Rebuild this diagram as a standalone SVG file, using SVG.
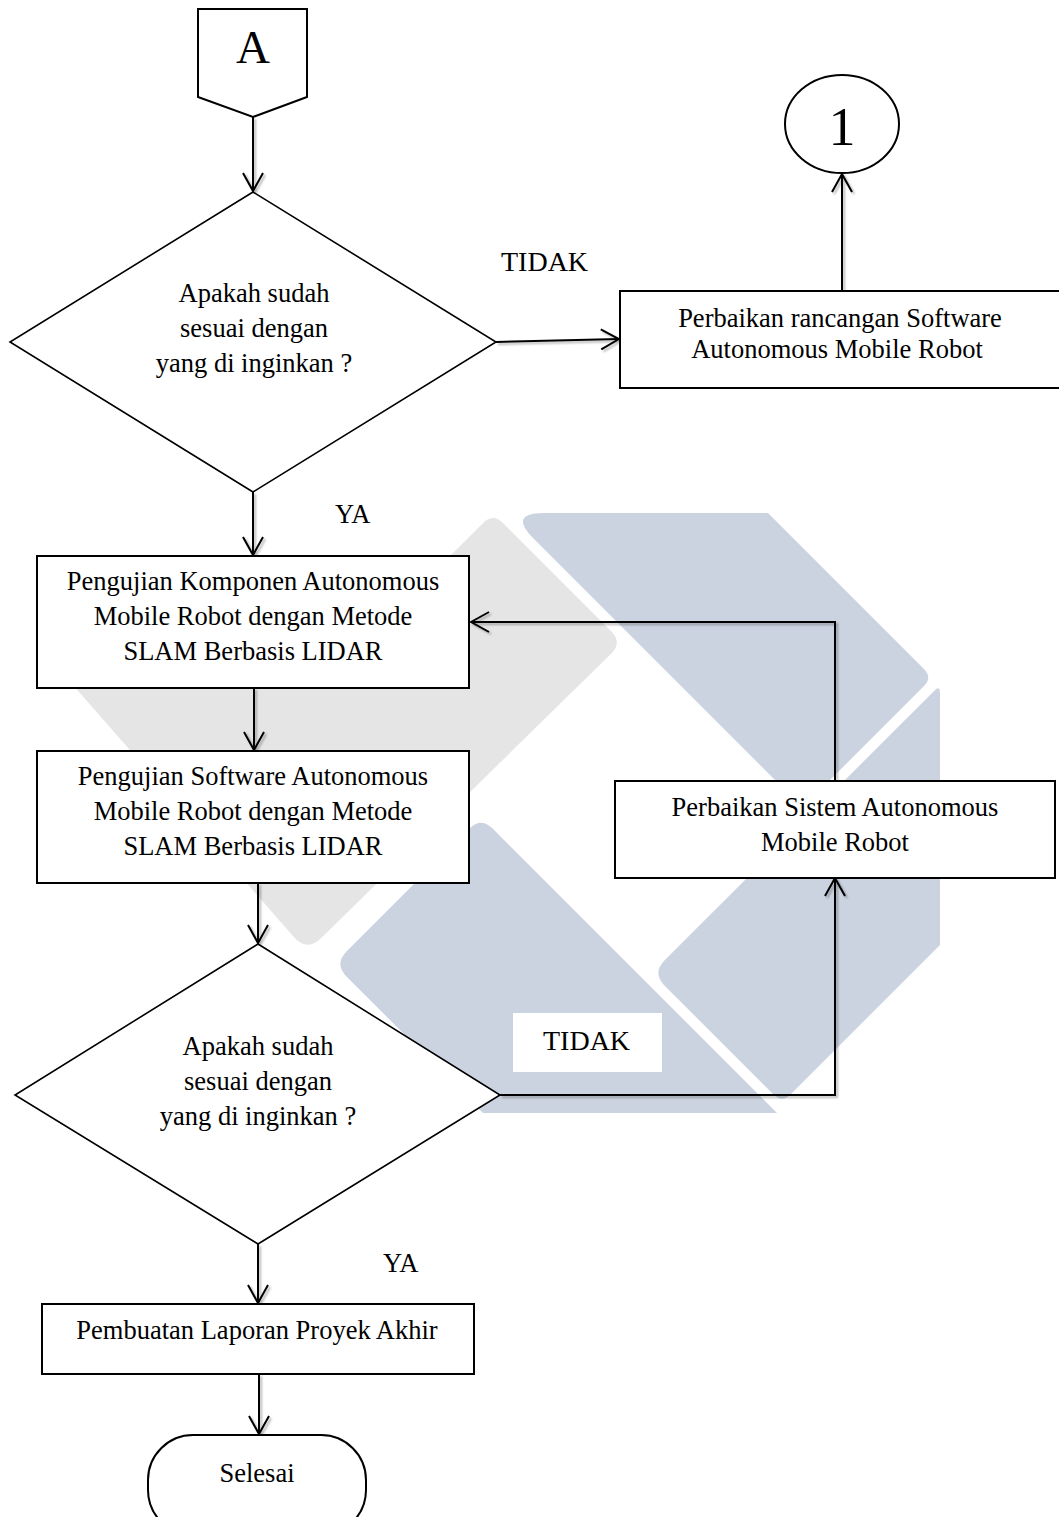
<svg xmlns="http://www.w3.org/2000/svg" width="1059" height="1517" viewBox="0 0 1059 1517">
  <defs>
    <style>
      .t { font-family: "Liberation Serif", "Times New Roman", serif; font-size: 26.5px; fill: #000; text-anchor: middle; }
      .lbl { font-family: "Liberation Serif", "Times New Roman", serif; font-size: 26.5px; fill: #000; }
      .box { fill: #fff; stroke: #000; stroke-width: 2; }
      .dia { fill: #fff; stroke: #000; stroke-width: 1.6; }
      .conn { fill: none; stroke: #000; stroke-width: 2; marker-end: url(#arr); }
      .wm-gray { fill: #e5e5e5; }
      .wm-blue { fill: #cbd3e0; }
    </style>
    <marker id="arr" viewBox="0 0 20 22" refX="19" refY="11" markerWidth="20" markerHeight="22" markerUnits="userSpaceOnUse" orient="auto">
      <path d="M1,1 L19,11 L1,21" fill="none" stroke="#000" stroke-width="2"/>
    </marker>
    <filter id="soft" x="-5%" y="-5%" width="110%" height="110%">
      <feGaussianBlur in="SourceAlpha" stdDeviation="1.3"/>
      <feOffset dx="1.5" dy="1.5" result="b"/>
      <feComponentTransfer><feFuncA type="linear" slope="0.3"/></feComponentTransfer>
      <feMerge><feMergeNode/><feMergeNode in="SourceGraphic"/></feMerge>
    </filter>
  </defs>

  <rect width="1059" height="1517" fill="#fff"/>

  <!-- faded logo in the background -->
  <g id="watermark">
    <path class="wm-gray" d="M483.1,522.9 Q493,513 502.9,522.9 L611.2,631.2 Q622.5,642.5 611.1,653.7 L321.3,938 Q307,952 293.8,937 L44,652 L440,566 Z"/>
    <path class="wm-blue" d="M533.5,538.5 Q508,513 544,513 L768,513 L924,669 Q932.5,677.5 924,686 L802.5,807.5 Z"/>
    <path class="wm-blue" d="M469.7,828.3 Q481,817 492.3,828.3 L777,1113 L483,1113 L346.7,976.7 Q334,964 346.7,951.3 Z"/>
    <path class="wm-blue" d="M934.3,690.7 Q940,685 940,693 L940,945 L790.5,1094.5 Q782,1103 773.5,1094.5 L664.7,985.7 Q652,973 664.7,960.3 Z"/>
  </g>

  <!-- connectors -->
  <g id="connectors" filter="url(#soft)">
    <path class="conn" d="M253,117 V191"/>
    <path class="conn" d="M496,342 L619,339"/>
    <path class="conn" d="M842,291 V174"/>
    <path class="conn" d="M253,492 V555"/>
    <path class="conn" d="M254,688 V750"/>
    <path class="conn" d="M258,883 V943"/>
    <path class="conn" d="M500,1095 H835 V878"/>
    <path class="conn" d="M835,781 V622 H471"/>
    <path class="conn" d="M258,1244 V1303"/>
    <path class="conn" d="M259,1374 V1434"/>
  </g>

  <!-- edge labels -->
  <g id="labels">
    <text class="lbl" x="501" y="271" style="font-size:28px">TIDAK</text>
    <text class="lbl" x="335" y="523">YA</text>
    <rect x="513" y="1013" width="149" height="59" fill="#fff"/>
    <text class="lbl" x="543" y="1050" style="font-size:28px">TIDAK</text>
    <text class="lbl" x="383" y="1272">YA</text>
  </g>

  <g id="start-A">
    <polygon class="box" points="198,9 307,9 307,97 253,117 198,97"/>
    <text class="t" x="253" y="63" style="font-size:47px">A</text>
  </g>

  <g id="check-1">
    <polygon class="dia" points="253,192 496,342 253,492 10,342"/>
    <text class="t" x="254" y="302">Apakah sudah</text>
    <text class="t" x="254" y="337">sesuai dengan</text>
    <text class="t" x="254" y="372">yang di inginkan ?</text>
  </g>

  <g id="fix-software">
    <rect class="box" x="620" y="291" width="445" height="97"/>
    <text class="t" x="840" y="327">Perbaikan rancangan Software</text>
    <text class="t" x="837" y="358">Autonomous Mobile Robot</text>
  </g>

  <g id="connector-1">
    <ellipse class="box" cx="842" cy="124" rx="57" ry="49"/>
    <text class="t" x="842" y="145" style="font-size:54px">1</text>
  </g>

  <g id="test-components">
    <rect class="box" x="37" y="556" width="432" height="132"/>
    <text class="t" x="253" y="590">Pengujian Komponen Autonomous</text>
    <text class="t" x="253" y="625">Mobile Robot dengan Metode</text>
    <text class="t" x="253" y="660">SLAM Berbasis LIDAR</text>
  </g>

  <g id="test-software">
    <rect class="box" x="37" y="751" width="432" height="132"/>
    <text class="t" x="253" y="785">Pengujian Software Autonomous</text>
    <text class="t" x="253" y="820">Mobile Robot dengan Metode</text>
    <text class="t" x="253" y="855">SLAM Berbasis LIDAR</text>
  </g>

  <g id="fix-system">
    <rect class="box" x="615" y="781" width="440" height="97"/>
    <text class="t" x="835" y="816">Perbaikan Sistem Autonomous</text>
    <text class="t" x="835" y="851">Mobile Robot</text>
  </g>

  <g id="check-2">
    <polygon class="dia" points="258,944 500,1095 258,1244 15,1095"/>
    <text class="t" x="258" y="1055">Apakah sudah</text>
    <text class="t" x="258" y="1090">sesuai dengan</text>
    <text class="t" x="258" y="1125">yang di inginkan ?</text>
  </g>

  <g id="report">
    <rect class="box" x="42" y="1304" width="432" height="70"/>
    <text class="t" x="257" y="1339">Pembuatan Laporan Proyek Akhir</text>
  </g>

  <g id="end">
    <rect class="box" x="148" y="1435" width="218" height="100" rx="45" ry="45"/>
    <text class="t" x="257" y="1482">Selesai</text>
  </g>
</svg>
